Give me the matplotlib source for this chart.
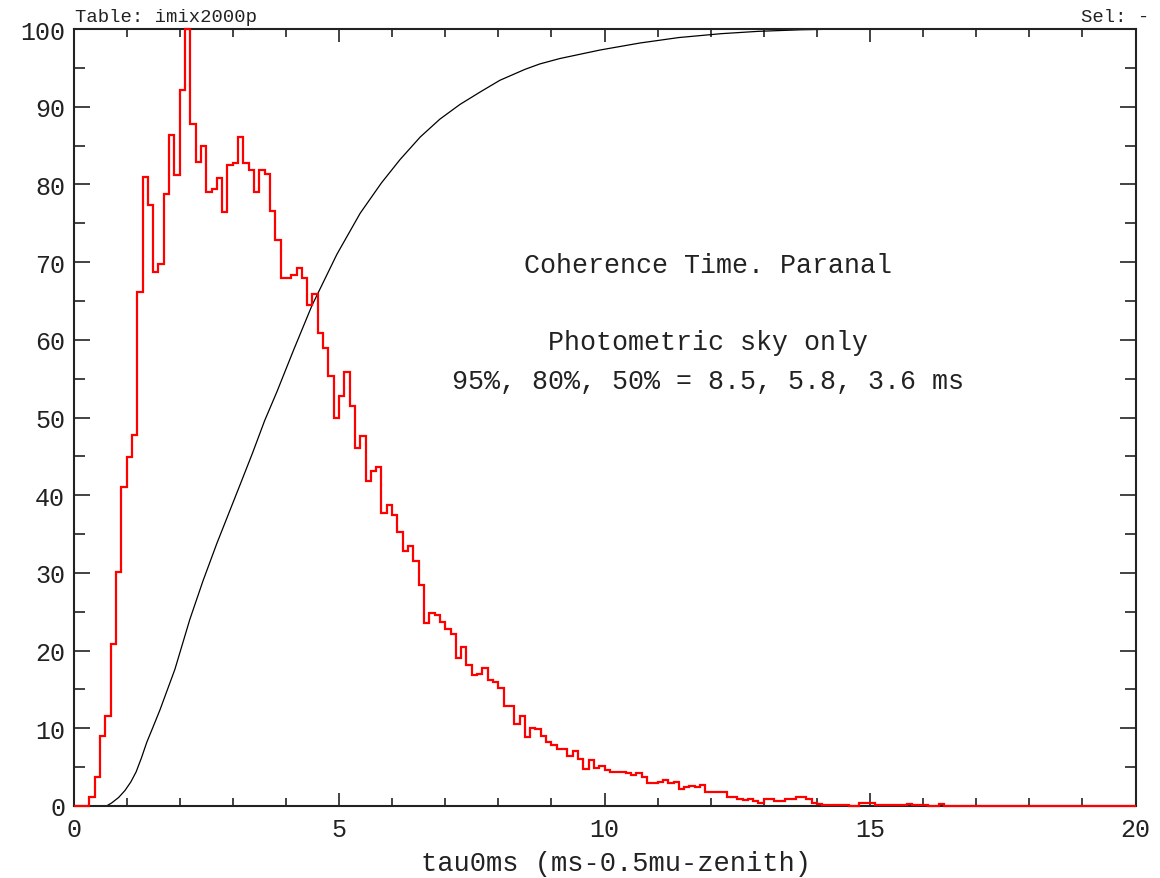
import numpy as np
import matplotlib
matplotlib.use('Agg')
import matplotlib.pyplot as plt
from matplotlib.ticker import MultipleLocator

# histogram of tau0 (0.1 ms bins), first non-empty bin starts at 0.3 ms
hist_start = 0.3
bin_width = 0.1
hist_counts = [
    1.1, 3.7, 9.0, 11.6, 20.8, 30.1, 41.1, 44.9, 47.7,            # 0.3 - 1.1
    66.1, 81.0, 77.3, 68.7, 69.8, 78.8, 86.3, 81.2, 92.1, 100.0,  # 1.2 - 2.1
    87.8, 82.9, 84.9, 79.0, 79.4, 80.8, 76.4, 82.5, 82.7, 86.1,   # 2.2 - 3.1
    82.7, 81.8, 79.0, 81.9, 81.3, 76.6, 72.8, 67.9, 67.9, 68.3,   # 3.2 - 4.1
    69.2, 67.9, 64.5, 65.9, 60.9, 59.0, 55.4, 49.9, 52.8, 55.8,   # 4.2 - 5.1
    51.5, 46.1, 47.6, 41.8, 43.1, 43.6, 37.7, 38.8, 37.5, 35.2,   # 5.2 - 6.1
    32.8, 33.5, 31.5, 28.4, 23.6, 24.8, 24.6, 23.7, 22.8, 22.1,   # 6.2 - 7.1
    19.0, 20.5, 18.2, 16.8, 17.0, 17.7, 16.2, 16.0, 15.2, 12.9,   # 7.2 - 8.1
    12.9, 10.5, 11.6, 8.9, 10.1, 9.9, 9.0, 8.2, 7.8, 7.4,         # 8.2 - 9.1
    7.3, 6.4, 7.1, 6.0, 4.8, 5.9, 4.9, 5.2, 4.6, 4.4,             # 9.2 - 10.1
    4.4, 4.4, 4.2, 4.0, 4.2, 3.7, 2.9, 2.9, 3.1, 3.3,             # 10.2 - 11.1
    2.9, 3.1, 2.2, 2.5, 2.6, 2.4, 2.7, 1.75, 1.75, 1.75,          # 11.2 - 12.1
    1.75, 1.15, 1.15, 0.9, 0.75, 0.9, 0.6, 0.4, 0.9, 0.9,         # 12.2 - 13.1
    0.7, 0.7, 0.9, 0.9, 1.1, 1.1, 0.9, 0.4, 0.3, 0.12,            # 13.2 - 14.1
    0.12, 0.12, 0.12, 0.12, 0.0, 0.0, 0.4, 0.4, 0.35, 0.12,       # 14.2 - 15.1
    0.12, 0.12, 0.12, 0.12, 0.12, 0.3, 0.12, 0.12, 0.12, 0.0,     # 15.2 - 16.1
    0.0, 0.2,                                                     # 16.2 - 16.3
]

# cumulative distribution [%]
cdf_x = [0.50, 0.62, 0.72, 0.85, 0.97, 1.08, 1.18, 1.28, 1.38, 1.50, 1.63,
         1.77, 1.91, 2.05, 2.19, 2.44, 2.70, 2.92, 3.14, 3.37, 3.60, 3.83,
         4.14, 4.49, 4.96, 5.40, 5.80, 6.15, 6.53, 6.90, 7.28, 7.66, 8.03,
         8.50, 8.78, 9.16, 9.92, 10.67, 11.40, 12.20, 12.90, 13.70, 14.50]
cdf_y = [0.0, 0.0, 0.4, 1.1, 2.0, 3.1, 4.4, 6.2, 8.2, 10.2, 12.4,
         15.0, 17.6, 20.8, 24.0, 29.0, 33.8, 37.6, 41.4, 45.4, 49.6, 53.3,
         58.6, 64.4, 71.0, 76.3, 80.2, 83.2, 86.1, 88.4, 90.3, 91.9, 93.4,
         94.8, 95.5, 96.2, 97.3, 98.2, 98.9, 99.4, 99.7, 99.9, 100.0]

x_max = 20.0
font = ['Liberation Mono', 'DejaVu Sans Mono']
ink = '#222222'

# full set of bins over the axis range, empty outside the data
n_bins = int(round(x_max / bin_width))
edges = np.round(np.arange(n_bins + 1) * bin_width, 2)
values = np.zeros(n_bins)
i0 = int(round(hist_start / bin_width))
values[i0:i0 + len(hist_counts)] = hist_counts

fig = plt.figure(figsize=(11.6, 8.79), dpi=100)
ax = fig.add_axes([73.5 / 1160, 72 / 879, 1062 / 1160, 777 / 879])

ax.plot(cdf_x, cdf_y, color='black', lw=0.9, zorder=2)
ax.stairs(values, edges, baseline=None, color='red', lw=1.6,
          clip_on=False, zorder=4)

ax.set_xlim(0, x_max)
ax.set_ylim(0, 100)

ax.xaxis.set_major_locator(MultipleLocator(5))
ax.xaxis.set_minor_locator(MultipleLocator(1))
ax.yaxis.set_major_locator(MultipleLocator(10))
ax.yaxis.set_minor_locator(MultipleLocator(5))
ax.tick_params(which='both', direction='in', top=True, right=True,
               width=1.2, color=ink, labelsize=18, labelcolor=ink)
ax.tick_params(axis='x', which='major', length=9.5, pad=8)
ax.tick_params(axis='x', which='minor', length=6)
ax.tick_params(axis='y', which='major', length=11.5, pad=6)
ax.tick_params(axis='y', which='minor', length=8)
for lab in ax.get_xticklabels() + ax.get_yticklabels():
    lab.set_family(font)

for sp in ax.spines.values():
    sp.set_linewidth(1.5)
    sp.set_color(ink)

ax.set_xlabel('tau0ms (ms-0.5mu-zenith)', fontsize=19.5, family=font,
              color=ink)
ax.xaxis.set_label_coords(0.5104, -0.056)

ax.text(0.597, 0.696, 'Coherence Time. Paranal', transform=ax.transAxes,
        ha='center', va='center', fontsize=19.2, family=font, color=ink)
ax.text(0.597, 0.597, 'Photometric sky only', transform=ax.transAxes,
        ha='center', va='center', fontsize=19.2, family=font, color=ink)
ax.text(0.597, 0.547, '95%, 80%, 50% = 8.5, 5.8, 3.6 ms',
        transform=ax.transAxes, ha='center', va='center', fontsize=19.2,
        family=font, color=ink)

fig.text(75 / 1160, 1 - 17 / 879, 'Table: imix2000p', ha='left',
         va='center', fontsize=13.6, family=font, color=ink)
fig.text(1149 / 1160, 1 - 17 / 879, 'Sel: -', ha='right', va='center',
         fontsize=13.6, family=font, color=ink)

fig.savefig('out.png', dpi=100, facecolor='white')
